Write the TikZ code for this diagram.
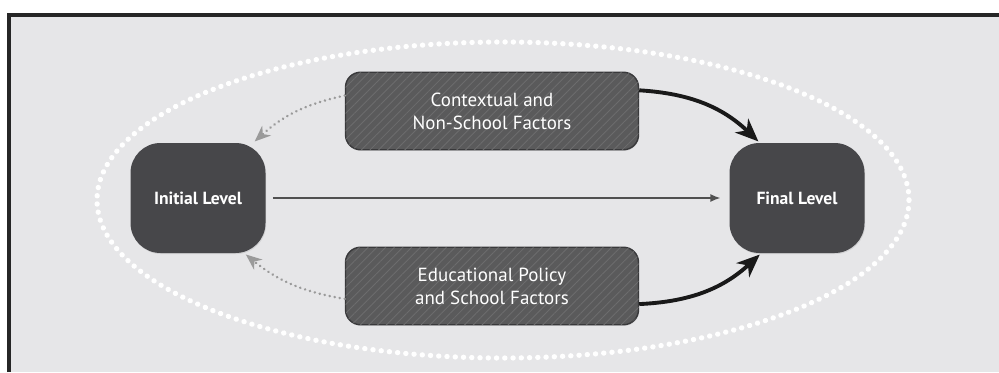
\documentclass[tikz,border=0pt]{standalone}
\usepackage{fontspec}
\setmainfont{PT Sans}
\usetikzlibrary{arrows.meta,patterns.meta,shadows}

\definecolor{bggray}{HTML}{E6E6E8}
\definecolor{lvlgray}{HTML}{47474A}
\definecolor{facgray}{HTML}{5A5A5B}
\definecolor{hatchgray}{HTML}{6C6C6D}
\definecolor{dotgray}{HTML}{9A9A9A}
\definecolor{linegray}{HTML}{505050}

\begin{document}
\begin{tikzpicture}[
  level/.style={fill=lvlgray,rounded corners=.6cm,minimum width=2.7cm,minimum height=2.2cm,text=white,font=\bfseries\fontsize{10}{12}\selectfont,drop shadow={opacity=.2,shadow xshift=.4pt,shadow yshift=-.6pt}},
  factor/.style={fill=facgray,draw=lvlgray!80!black,thick,rounded corners=.3cm,minimum width=5.86cm,minimum height=1.55cm,text=white,align=center,font=\fontsize{10.8}{13}\selectfont,postaction={pattern={Lines[angle=45,distance=3.5pt,line width=.5pt]},pattern color=hatchgray},drop shadow={opacity=.2,shadow xshift=.4pt,shadow yshift=-.6pt}},
  back/.style={-{Stealth[length=3.2mm,width=2.6mm,inset=1mm]},dotgray,line width=1.5pt,dash pattern=on .1pt off 2.8pt,line cap=round,shorten >=1pt},
  push/.style={-{Stealth[length=4.6mm,width=3.8mm,inset=1.4mm]},black!90,line width=2.2pt,shorten >=1pt}
]
\useasboundingbox (0,0) rectangle (19.98,7.44);
\fill[white] (0,0) rectangle (19.98,7.44);
\fill[bggray] (0.18,0) rectangle (19.98,7.14);
\draw[line width=.08cm,black!85] (0.18,0) -- (0.18,7.14) -- (19.98,7.14);
% dotted ring
\draw[white,line width=3pt,dash pattern=on .1pt off 4.6pt,line cap=round] (10.06,3.44) ellipse [x radius=8.12,y radius=3.16];

\node[level] (init) at (3.96,3.48) {Initial Level};
\node[level] (fin) at (15.94,3.48) {Final Level};
\node[factor] (ctx) at (9.84,5.22) {Contextual and\\Non-School Factors};
\node[factor] (edu) at (9.84,1.72) {Educational Policy\\and School Factors};

\draw [-{Latex[length=2mm,width=1.6mm]},linegray,line width=.8pt,shorten <=4pt,shorten >=5pt] (init) -- (fin);
\draw [back] (ctx.174) to[bend right=15] (init.45);
\draw [back] (edu.185) to[bend left=15] (init.-50);
\draw [push] (ctx.8) to[bend left=20] (fin.124);
\draw [push] (edu.-7) to[bend right=20] (fin.237);
\end{tikzpicture}
\end{document}
